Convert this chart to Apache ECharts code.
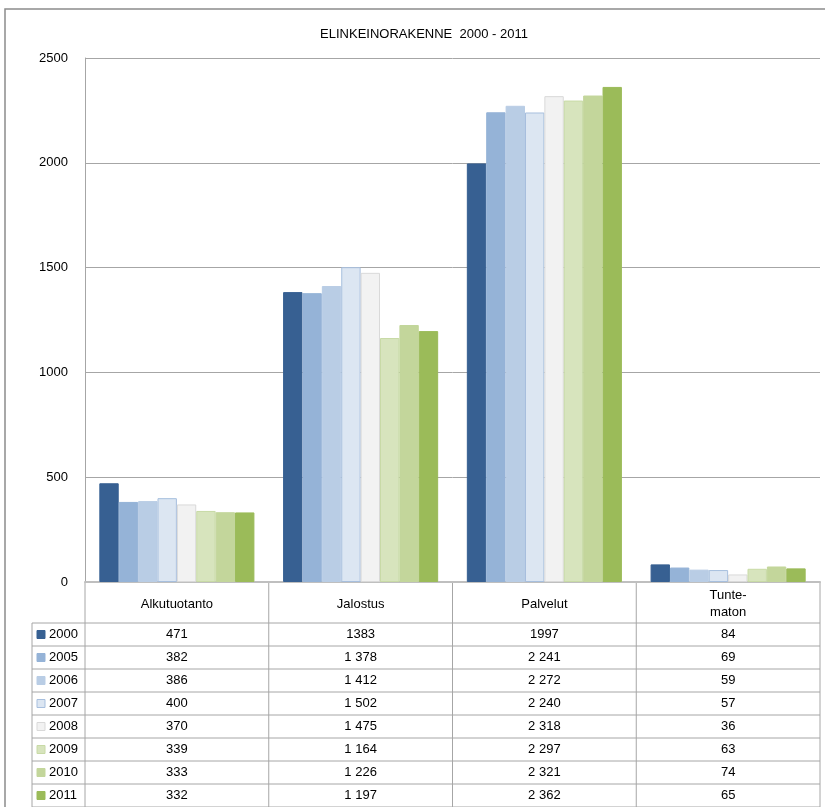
<!doctype html>
<html lang="fi">
<head>
    <meta charset="utf-8">
    <title>Elinkeinorakenne 2000 - 2011</title>
    <script src="https://cdn.jsdelivr.net/npm/echarts@6/dist/echarts.min.js"></script>
    <style>
        html, body { margin: 0; padding: 0; background: #fff; }
    </style>
</head>
<body>
<div id="main" style="width:825px;height:807px;"></div>
<script>
    // toimialat (x-akseli)
    var categories = ['Alkutuotanto', 'Jalostus', 'Palvelut', 'Tunte-\nmaton'];
    var years = ['2000', '2005', '2006', '2007', '2008', '2009', '2010', '2011'];

    // arvot vuosittain, järjestys kuten categories
    var v2000 = [471, 1383, 1997, 84];
    var v2005 = [382, 1378, 2241, 69];
    var v2006 = [386, 1412, 2272, 59];
    var v2007 = [400, 1502, 2240, 57];
    var v2008 = [370, 1475, 2318, 36];
    var v2009 = [339, 1164, 2297, 63];
    var v2010 = [333, 1226, 2321, 74];
    var v2011 = [332, 1197, 2362, 65];
    var values = [v2000, v2005, v2006, v2007, v2008, v2009, v2010, v2011];

    var yTicks = [0, 500, 1000, 1500, 2000, 2500];

    var colors = ['#376092', '#95B3D7', '#B9CDE5', '#DCE6F2', '#F2F2F2', '#D7E4BD', '#C3D69B', '#9BBB59'];
    var borders = ['#376092', '#95B3D7', '#B9CDE5', '#A7BFDE', '#D9D9D9', '#C8DAA6', '#C3D69B', '#9BBB59'];

    var font = 'Liberation Sans, Arial, sans-serif';
    var gridL = 85, gridR = 820, gridT = 58, gridB = 582;
    var rowTop = 623, rowH = 23, legL = 32;
    var lineCol = '#A6A6A6';

    // taulukon luvut: välilyönti tuhaterottimena (2000-rivillä ei)
    function fmt(v, row) {
        var s = String(v);
        if (row === 0 || v < 1000) return s;
        return s.slice(0, s.length - 3) + ' ' + s.slice(-3);
    }

    var series = years.map(function (y, i) {
        return {
            name: y,
            type: 'bar',
            data: values[i],
            barGap: 0,
            barCategoryGap: '15.6%',
            itemStyle: { color: colors[i], borderColor: borders[i], borderWidth: 1 }
        };
    });

    // datataulukko grafiikkana
    var colW = (gridR - gridL) / categories.length;
    var g = [];
    g.push({
        type: 'rect', shape: { x: 5, y: 9, width: 840, height: 820 },
        style: { fill: null, stroke: '#8C8C8C', lineWidth: 1.5 }, silent: true
    });
    for (var r = 0; r <= years.length; r++) {
        var yy = rowTop + r * rowH;
        g.push({ type: 'line', shape: { x1: legL, y1: yy, x2: gridR, y2: yy }, style: { stroke: lineCol, lineWidth: 1 } });
    }
    g.push({ type: 'line', shape: { x1: legL, y1: rowTop, x2: legL, y2: 807 }, style: { stroke: lineCol, lineWidth: 1 } });
    for (var c = 0; c <= categories.length; c++) {
        var xx = gridL + c * colW;
        g.push({ type: 'line', shape: { x1: xx, y1: gridB, x2: xx, y2: 807 }, style: { stroke: lineCol, lineWidth: 1 } });
    }
    years.forEach(function (y, i) {
        var cy = rowTop + i * rowH + rowH / 2;
        g.push({ type: 'rect', shape: { x: 37, y: cy - 4, width: 8, height: 8 },
            style: { fill: colors[i], stroke: borders[i], lineWidth: 1 } });
        g.push({ type: 'text', x: 49, y: cy, style: { text: y, font: '13px ' + font, fill: '#000', verticalAlign: 'middle' } });
        values[i].forEach(function (v, j) {
            g.push({ type: 'text', x: gridL + colW * (j + 0.5), y: cy,
                style: { text: fmt(v, i), font: '13px ' + font, fill: '#000', align: 'center', verticalAlign: 'middle' } });
        });
    });

    echarts.init(document.getElementById('main')).setOption({
        animation: false,
        title: {
            text: 'ELINKEINORAKENNE  2000 - 2011',
            left: 419,
            textAlign: 'center',
            top: 23,
            textStyle: { fontFamily: 'Liberation Sans Narrow, Arial Narrow, ' + font, fontSize: 13, fontWeight: 'normal', color: '#000' }
        },
        grid: { left: gridL, right: 825 - gridR, top: gridT, bottom: 807 - gridB, containLabel: false },
        xAxis: {
            type: 'category',
            data: categories,
            axisLine: { lineStyle: { color: '#BFBFBF', width: 2 } },
            axisTick: { show: false },
            axisLabel: { margin: 22, verticalAlign: 'middle', fontFamily: font, fontSize: 13, color: '#000', lineHeight: 17, interval: 0 }
        },
        yAxis: {
            type: 'value',
            min: yTicks[0],
            max: yTicks[yTicks.length - 1],
            interval: 500,
            axisLine: { show: true, lineStyle: { color: lineCol } },
            axisTick: { show: false },
            splitLine: { lineStyle: { color: lineCol, width: 1 } },
            axisLabel: { margin: 17, fontFamily: font, fontSize: 13, color: '#000', formatter: function (v) { return String(v); } }
        },
        series: series,
        graphic: g
    });
</script>
</body>
</html>
